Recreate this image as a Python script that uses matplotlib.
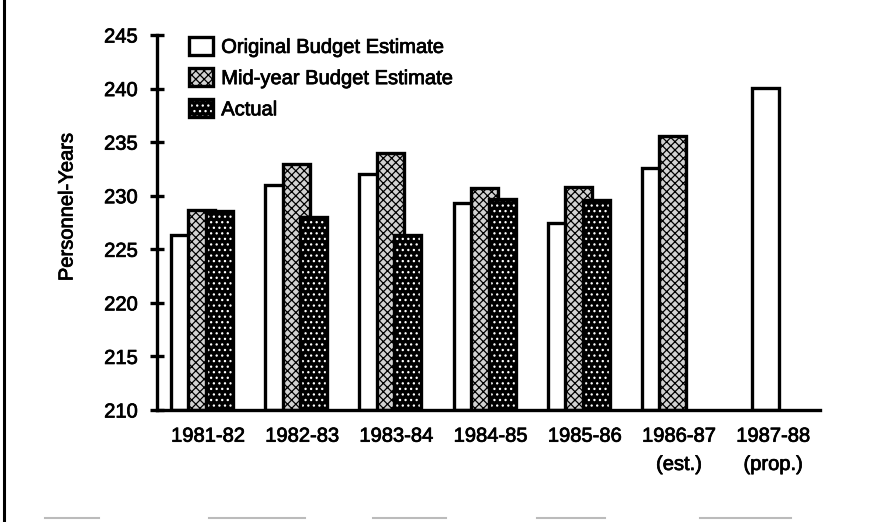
import numpy as np
import matplotlib
matplotlib.use("Agg")
import matplotlib.pyplot as plt
import matplotlib.patheffects as pe
from matplotlib.patches import Patch
from matplotlib.lines import Line2D

# ---- data ----
categories = ["1981-82", "1982-83", "1983-84", "1984-85", "1985-86",
              "1986-87\n(est.)", "1987-88\n(prop.)"]
original = [226.3, 231.0, 232.0, 229.3, 227.5, 232.6, 240.1]
midyear = [228.7, 233.0, 234.0, 230.7, 230.8, 235.6, np.nan]
actual = [228.6, 228.0, 226.3, 229.7, 229.6, np.nan, np.nan]
series_names = ["Original Budget Estimate", "Mid-year Budget Estimate", "Actual"]
yticks = [210, 215, 220, 225, 230, 235, 240, 245]

plt.rcParams['font.family'] = ['Liberation Sans', 'DejaVu Sans']
plt.rcParams['hatch.linewidth'] = 0.9
FS = 14.5
LW = 2.4
heavy = [pe.withStroke(linewidth=0.55, foreground='black')]

fig = plt.figure(figsize=(8.85, 5.22), dpi=100)
ax = fig.add_axes([157/885, 1-410/522, (820-157)/885, (410-35)/522])

x = np.arange(len(categories))
width = 0.287
step = 0.186
first_multi = -0.25      # center offset of first bar in a multi-bar group
first_single = -0.08     # center offset when a group has only one bar

def centers(k):
    out = []
    for i in range(len(categories)):
        vals = [original[i], midyear[i], actual[i]]
        n = sum(0 if np.isnan(v) else 1 for v in vals)
        base = first_single if n == 1 else first_multi
        out.append(x[i] + base + k*step)
    return np.array(out)

o_vals = np.array(original, dtype=float)
m_vals = np.array(midyear, dtype=float)
a_vals = np.array(actual, dtype=float)
bottom = 210
MID_FACE = '#d2d2d2'

ax.bar(centers(0), o_vals - bottom, width, bottom=bottom, facecolor='white',
       edgecolor='black', linewidth=LW, zorder=2)
ax.bar(centers(1), m_vals - bottom, width, bottom=bottom, facecolor=MID_FACE,
       edgecolor='black', linewidth=LW, hatch='xxxx', zorder=3)
ax.bar(centers(2), a_vals - bottom, width, bottom=bottom, facecolor='black',
       edgecolor='white', linewidth=0, hatch='...', zorder=4)
ax.bar(centers(2), a_vals - bottom, width, bottom=bottom, fill=False,
       edgecolor='black', linewidth=LW, zorder=5)

ax.set_xlim(-0.541, 6.497)
ax.set_ylim(210, 245)
ax.set_yticks(yticks)
ax.set_yticklabels([str(t) for t in yticks], fontsize=FS)
ax.set_xticks(x)
ax.set_xticklabels(categories, fontsize=FS, linespacing=1.62)
ax.tick_params(axis='x', length=0, pad=12)
ax.tick_params(axis='y', direction='inout', length=10, width=LW, pad=9)
for s in ['top', 'right']:
    ax.spines[s].set_visible(False)
for s in ['left', 'bottom']:
    ax.spines[s].set_linewidth(LW)
    ax.spines[s].set_zorder(6)
for t in ax.get_xticklabels() + ax.get_yticklabels():
    t.set_path_effects(heavy)

ax.set_ylabel("Personnel-Years", fontsize=FS, va='center', path_effects=heavy)
ax.yaxis.set_label_coords((67-157)/663, (410-207)/375)

handles = [
    Patch(facecolor='white', edgecolor='black', linewidth=LW),
    Patch(facecolor=MID_FACE, edgecolor='black', linewidth=LW, hatch='xxxx'),
    (Patch(facecolor='black', edgecolor='white', linewidth=0, hatch='...'),
     Patch(fill=False, edgecolor='black', linewidth=LW)),
]
leg = ax.legend(handles, series_names, loc='upper left',
                bbox_to_anchor=(189/885, 1-37/522), bbox_transform=fig.transFigure,
                frameon=False, fontsize=FS, handlelength=1.2, handleheight=1.0,
                handletextpad=0.4, labelspacing=0.56, borderpad=0, borderaxespad=0)
for t in leg.get_texts():
    t.set_path_effects(heavy)

# page border decorations
fig.add_artist(Line2D([4/885, 4/885], [0, 1], transform=fig.transFigure,
                      color='black', linewidth=2.2))
for x0, x1 in [(45, 99), (209, 305), (373, 446), (537, 605), (700, 791)]:
    fig.add_artist(Line2D([x0/885, x1/885], [1-518/522, 1-518/522],
                          transform=fig.transFigure, color='#bbbbbb', linewidth=1.5))

fig.savefig("out.png", dpi=100)
